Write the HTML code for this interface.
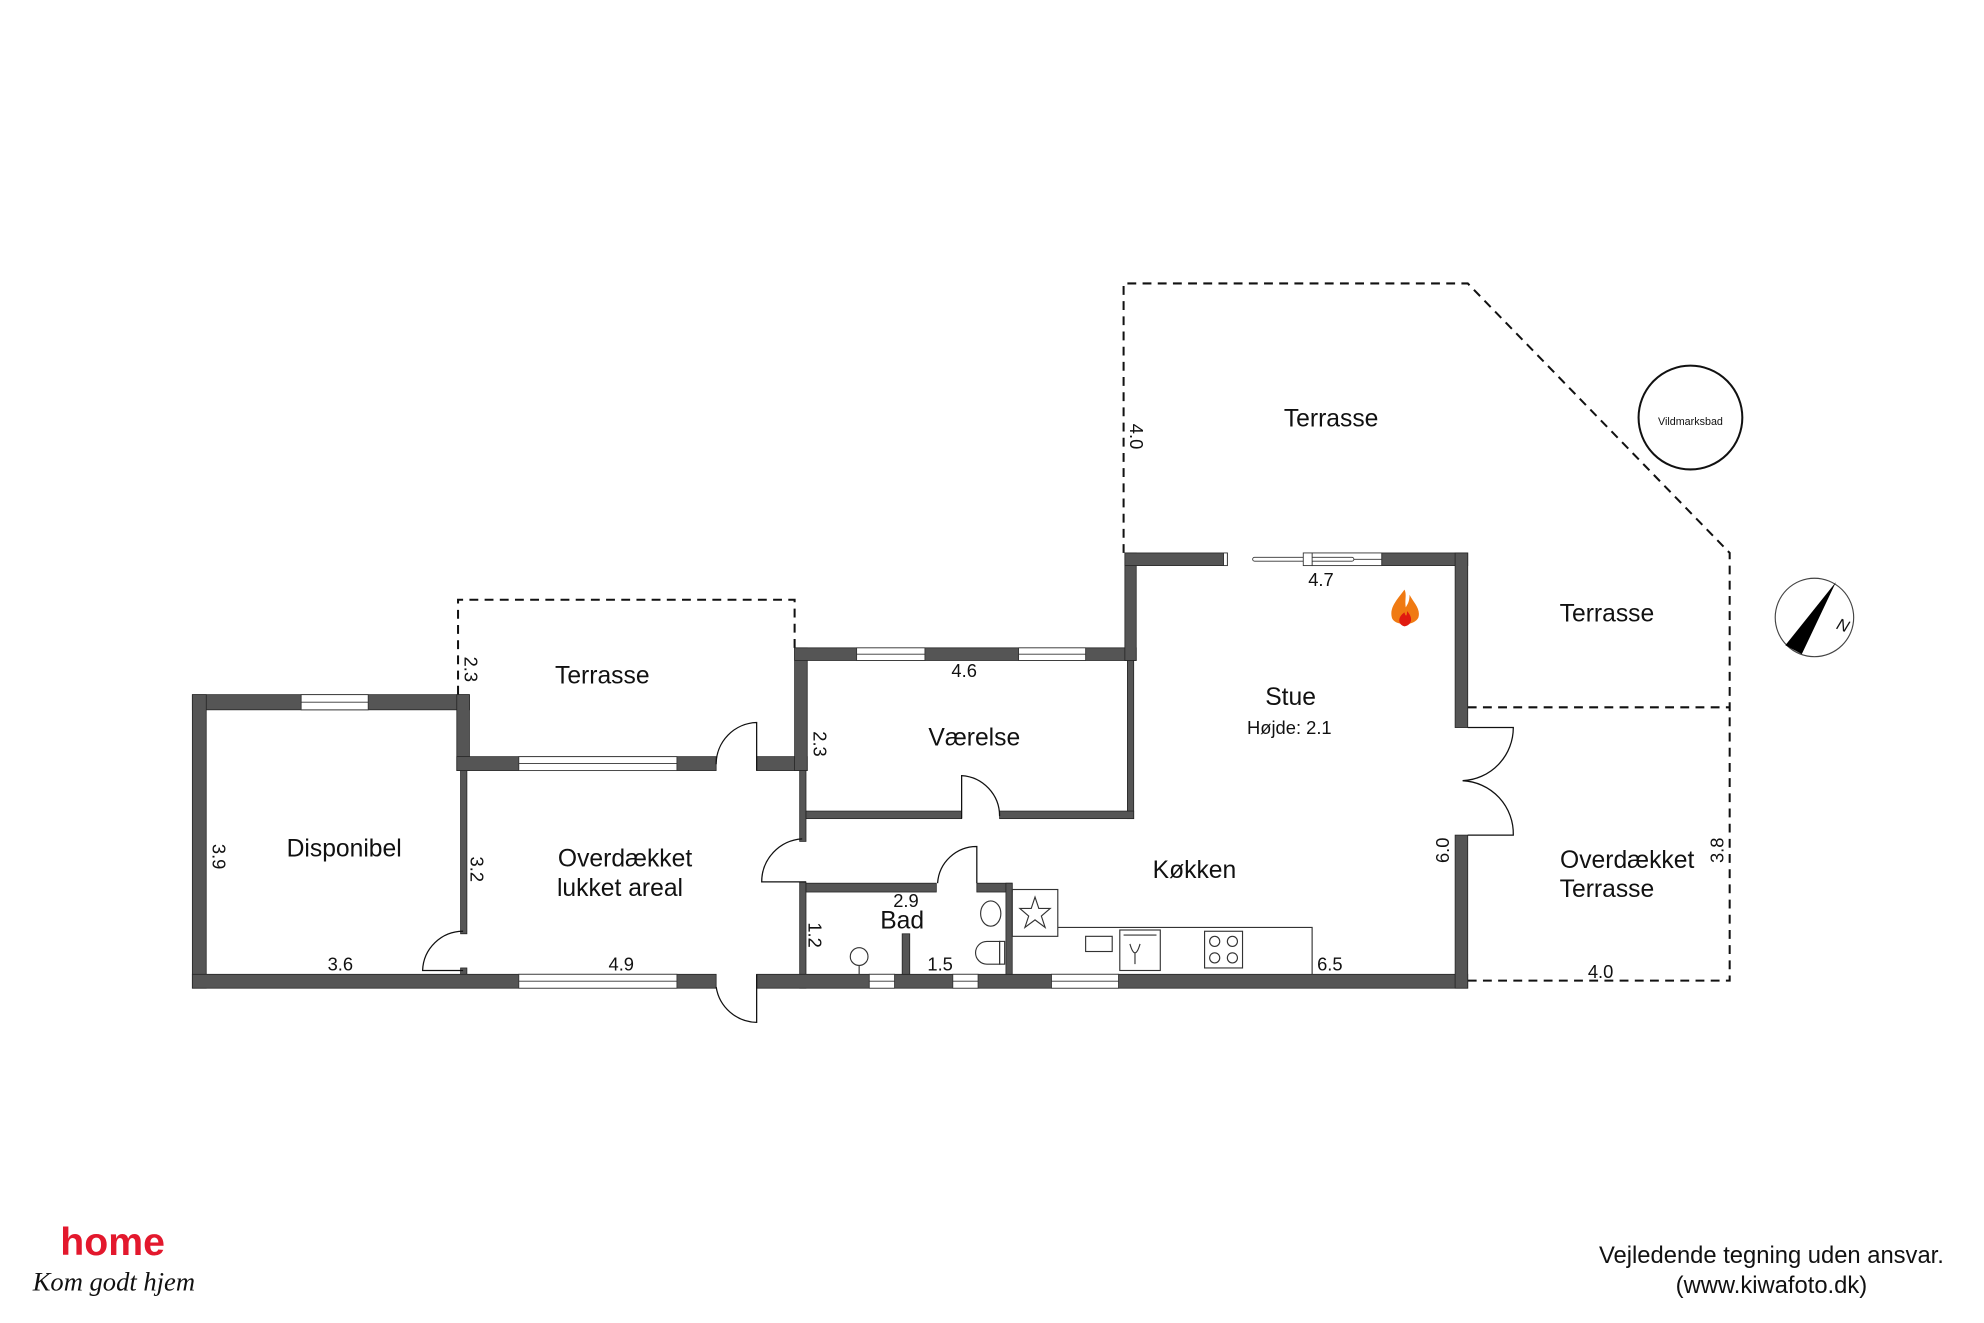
<!DOCTYPE html>
<html><head><meta charset="utf-8"><style>
html,body{margin:0;padding:0;background:#fff;}
svg{display:block;}
text{font-family:"Liberation Sans",sans-serif;fill:#111;}
</style></head><body>
<svg width="1984" height="1323" viewBox="0 0 1568 1045.6" xmlns="http://www.w3.org/2000/svg">
<rect x="0" y="0" width="1568" height="1046" fill="#fff"/>
<g fill="none" stroke="#111" stroke-width="1.6" stroke-dasharray="7,5">
<polyline points="362,549 362,474 628,474 628,512"/>
<polyline points="888,437 888,224 1160,224 1367,437 1367,775 1160,775"/>
<line x1="1160" y1="559" x2="1367" y2="559"/>
</g>
<g fill="#555" stroke="#222" stroke-width="0.6">
<rect x="152" y="549" width="219" height="12"/>
<rect x="152" y="549" width="11" height="232"/>
<rect x="361" y="549" width="10" height="60"/>
<rect x="364" y="609" width="5" height="129"/>
<rect x="364" y="765" width="5" height="6"/>
<rect x="361" y="598" width="205" height="11"/>
<rect x="598" y="598" width="40" height="11"/>
<rect x="628" y="512" width="10" height="97"/>
<rect x="632" y="609" width="5" height="56"/>
<rect x="632" y="697" width="5" height="84"/>
<rect x="152" y="770" width="414" height="11"/>
<rect x="598" y="770" width="562" height="11"/>
<rect x="628" y="512" width="270" height="10"/>
<rect x="889" y="437" width="9" height="85"/>
<rect x="891" y="522" width="5" height="125"/>
<rect x="637" y="641" width="123" height="6"/>
<rect x="790" y="641" width="106" height="6"/>
<rect x="889" y="437" width="81" height="10"/>
<rect x="1092" y="437" width="68" height="10"/>
<rect x="1150" y="437" width="10" height="138"/>
<rect x="1150" y="660" width="10" height="121"/>
<rect x="637" y="698" width="103" height="7"/>
<rect x="772" y="698" width="28" height="7"/>
<rect x="795" y="698" width="5" height="72"/>
<rect x="713" y="738" width="6" height="32"/>
</g>
<g fill="#fff" stroke="#333" stroke-width="0.7">
<rect x="238" y="549" width="53" height="12"/><line x1="238" y1="555" x2="291" y2="555"/>
<rect x="410" y="598" width="125" height="11"/><line x1="410" y1="603.5" x2="535" y2="603.5"/>
<rect x="410" y="770" width="125" height="11"/><line x1="410" y1="775.5" x2="535" y2="775.5"/>
<rect x="677" y="512" width="54" height="10"/><line x1="677" y1="517" x2="731" y2="517"/>
<rect x="805" y="512" width="53" height="10"/><line x1="805" y1="517" x2="858" y2="517"/>
<rect x="687" y="770" width="20" height="11"/><line x1="687" y1="775.5" x2="707" y2="775.5"/>
<rect x="753" y="770" width="20" height="11"/><line x1="753" y1="775.5" x2="773" y2="775.5"/>
<rect x="831" y="770" width="53" height="11"/><line x1="831" y1="775.5" x2="884" y2="775.5"/>
<rect x="1037" y="437" width="55" height="10"/><line x1="1037" y1="442" x2="1092" y2="442"/>
<rect x="967" y="437" width="3" height="10"/>
<rect x="990" y="440.5" width="80" height="3" rx="1.5"/>
<rect x="1030" y="437" width="7" height="10"/>
</g>
<g fill="none" stroke="#111" stroke-width="1">
<path d="M366,767 L334,767 A32,32 0 0 1 366,736"/>
<path d="M598,609 L598,571 A33,33 0 0 0 566,604"/>
<path d="M637,697 L602,697 A34,34 0 0 1 634,663"/>
<path d="M598,770 L598,808 A33,33 0 0 1 566,780"/>
<path d="M760,647 L760,613 A32,32 0 0 1 790,645"/>
<path d="M772,698 L772,669 A31,31 0 0 0 741,698"/>
<path d="M1160,575 L1196,575 A42,42 0 0 1 1156,617"/>
<path d="M1160,660 L1196,660 A42,42 0 0 0 1156,617"/>
</g>
<g fill="none" stroke="#333" stroke-width="0.9">
<rect x="800" y="703" width="36" height="37"/>
<polygon points="818,709 821,718 830,718 823,724 826,733 818,727 810,733 813,724 806,718 815,718"/>
<polyline points="836,733 1037,733 1037,770"/>
<rect x="858" y="740" width="21" height="12"/>
<rect x="885" y="735" width="32" height="32"/><line x1="888" y1="739" x2="914" y2="739"/>
<path d="M893,746 Q897,760 901,746 M897,753 L897,762"/>
<rect x="952" y="736" width="30" height="29"/>
<circle cx="960" cy="744" r="4"/><circle cx="974" cy="744" r="4"/><circle cx="960" cy="757" r="4"/><circle cx="974" cy="757" r="4"/>
<ellipse cx="783" cy="722" rx="8" ry="10"/>
<path d="M790,744 L790,762 L780,762 A9,9 0 0 1 780,744 Z"/>
<rect x="790" y="744" width="4" height="18"/>
<circle cx="679" cy="756" r="7"/><line x1="679" y1="763" x2="679" y2="770"/>
</g>
<path d="M1110,466 C1104,474 1098,480 1100,488 C1102,495 1118,495 1121,488 C1123,481 1117,476 1114,470 C1114,476 1112,478 1111,480 C1110,474 1112,470 1110,466 Z" fill="#f07a12"/>
<path d="M1110,484 C1104,488 1105,494 1110,495 C1116,494 1117,488 1112,483 C1112,487 1111,488 1110,484 Z" fill="#e01a10"/>
<circle cx="1336" cy="330" r="41" fill="none" stroke="#111" stroke-width="1.6"/>
<text x="1336" y="336" font-size="8.5" text-anchor="middle">Vildmarksbad</text>
<circle cx="1434" cy="488" r="31" fill="none" stroke="#444" stroke-width="0.9"/>
<polygon points="1451,460 1411,510 1424,517" fill="#000"/>
<text x="1452" y="497" font-size="13" font-style="italic" fill="#444" transform="rotate(20 1452 493)">N</text>
<g font-size="19.5" text-anchor="middle">
<text x="476" y="540">Terrasse</text>
<text x="272" y="677">Disponibel</text>
<text x="494" y="685">Overdækket</text>
<text x="490" y="708">lukket areal</text>
<text x="770" y="589">Værelse</text>
<text x="1020" y="557">Stue</text>
<text x="944" y="694">Køkken</text>
<text x="713" y="734">Bad</text>
<text x="1052" y="337">Terrasse</text>
<text x="1270" y="491">Terrasse</text>
<text x="1286" y="686">Overdækket</text>
<text x="1270" y="709">Terrasse</text>
</g>
<g font-size="14.5" text-anchor="middle">
<text x="1019" y="580">Højde: 2.1</text>
<text x="269" y="767">3.6</text>
<text x="491" y="767">4.9</text>
<text x="762" y="535">4.6</text>
<text x="1044" y="463">4.7</text>
<text x="716" y="717">2.9</text>
<text x="743" y="767">1.5</text>
<text x="1051" y="767">6.5</text>
<text x="1265" y="773">4.0</text>
<text transform="translate(367,529) rotate(90)">2.3</text>
<text transform="translate(643,588) rotate(90)">2.3</text>
<text transform="translate(168,677) rotate(90)">3.9</text>
<text transform="translate(372,687) rotate(90)">3.2</text>
<text transform="translate(639,739) rotate(90)">1.2</text>
<text transform="translate(893,345) rotate(90)">4.0</text>
<text transform="translate(1145,672) rotate(-90)">6.0</text>
<text transform="translate(1362,672) rotate(-90)">3.8</text>
</g>
<text x="89" y="992" font-size="31" font-weight="bold" text-anchor="middle" style="fill:#e3182d">home</text>
<text x="90" y="1020" font-size="21" font-style="italic" text-anchor="middle" style="font-family:'Liberation Serif',serif">Kom godt hjem</text>
<text x="1400" y="998" font-size="18.8" text-anchor="middle">Vejledende tegning uden ansvar.</text>
<text x="1400" y="1022" font-size="18.8" text-anchor="middle">(www.kiwafoto.dk)</text>
</svg>
</body></html>
